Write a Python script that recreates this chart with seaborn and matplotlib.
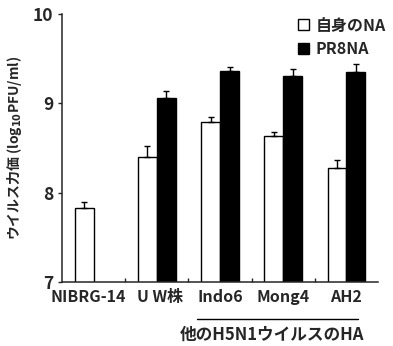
import numpy as np
import pandas as pd
import seaborn as sns
import matplotlib.pyplot as plt
import matplotlib.transforms as mtransforms

# values
strains = ['NIBRG-14', 'U W株', 'Indo6', 'Mong4', 'AH2']
own_na = [7.83, 8.40, 8.79, 8.63, 8.28]
own_err = [0.06, 0.12, 0.06, 0.05, 0.09]
pr8_na = [np.nan, 9.06, 9.36, 9.31, 9.35]
pr8_err = [0, 0.08, 0.04, 0.07, 0.09]
series = ['自身のNA', 'PR8NA']

sns.set_style('ticks')
plt.rcParams['font.family'] = ['Noto Sans CJK JP', 'DejaVu Sans']
plt.rcParams['font.weight'] = 'bold'

df = pd.DataFrame({
    'strain': strains * 2,
    'na': [series[0]] * 5 + [series[1]] * 5,
    'titer': own_na + pr8_na,
})

fig = plt.figure(figsize=(3.93, 3.46), dpi=100)
ax = fig.add_axes([0.158, 0.185, 0.804, 0.775])

sns.barplot(data=df, x='strain', y='titer', hue='na', order=strains,
            hue_order=series, palette=['white', 'black'], width=0.6,
            edgecolor='black', linewidth=1, errorbar=None, ax=ax)

# error bars drawn on top of each bar (upper half only)
for cont, errs in zip(ax.containers, [own_err, pr8_err]):
    for patch in cont:
        h = patch.get_height()
        if np.isnan(h) or h == 0:
            continue
        xc = patch.get_x() + patch.get_width() / 2
        e = errs[int(round(xc))]
        ax.errorbar(xc, h, yerr=[[0], [e]], fmt='none', ecolor='black',
                    elinewidth=1, capsize=2, capthick=1)

ax.set_ylim(7, 10)
ax.set_xlim(-0.5, 4.5)
ax.set_yticks([7, 8, 9, 10])
ax.set_xlabel('')
ax.set_ylabel('ウイルス力価 (log$_{10}$PFU/ml)', fontsize=10, fontweight='bold',
              labelpad=6)
ax.tick_params(axis='y', direction='out', length=3, labelsize=12.5, width=1)
ax.tick_params(axis='x', length=0, labelsize=11.5, pad=5)
ax.set_xticks([0.5, 1.5, 2.5, 3.5], minor=True)
ax.tick_params(axis='x', which='minor', direction='in', length=3, width=1)
for lab in ax.get_xticklabels() + ax.get_yticklabels():
    lab.set_fontweight('bold')
# first two labels sit a bit apart in the original
xl = ax.get_xticklabels()
xl[0].set_transform(xl[0].get_transform() +
                    mtransforms.ScaledTranslation(-5 / 100, 0, fig.dpi_scale_trans))
xl[1].set_transform(xl[1].get_transform() +
                    mtransforms.ScaledTranslation(3 / 100, 0, fig.dpi_scale_trans))
sns.despine(ax=ax)
for s in ['left', 'bottom']:
    ax.spines[s].set_linewidth(1.1)

leg = ax.legend(loc='upper right', bbox_to_anchor=(1.07, 1.04), frameon=False,
                handlelength=0.7, handleheight=0.7, handletextpad=0.4,
                labelspacing=0.5, fontsize=11.5)
for t in leg.get_texts():
    t.set_fontweight('bold')

# group label under the three other H5N1 strains
fig.add_artist(plt.Line2D([197 / 393, 358 / 393], [1 - 319 / 346] * 2,
                          color='black', linewidth=1))
fig.text(272 / 393, 1 - 335 / 346, '他のH5N1ウイルスのHA', ha='center',
         va='center', fontsize=12, fontweight='bold')

fig.savefig('out.png', dpi=100)
